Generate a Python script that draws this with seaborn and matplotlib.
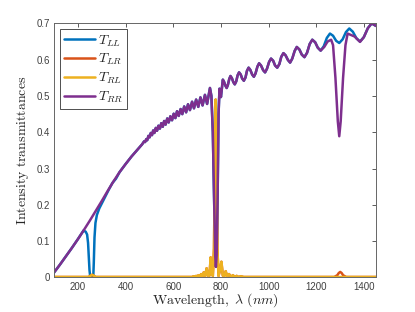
import numpy as np
import matplotlib
matplotlib.use("Agg")
import matplotlib.pyplot as plt
import seaborn as sns

# wavelength (nm) and T_RR (ripple peaks, troughs and shoulders)
wl_rr = [100, 125, 150, 175, 200, 225, 250, 275, 300, 325, 350, 375, 400, 425, 450, 470,
         478, 482, 487, 491, 496, 501, 506, 511, 516, 521, 527, 532, 538, 544, 550, 556,
         562, 568, 575, 581, 588, 595, 602, 609, 616, 623, 631, 638, 646, 654, 662, 670,
         679, 687, 696, 705, 714, 723, 733, 742, 754, 760, 766, 772, 776, 779, 782, 786,
         790, 794, 800, 808, 813, 819, 824, 829, 835, 840, 846, 852, 858, 864, 870, 876,
         883, 889, 896, 903, 909, 916, 923, 931, 938, 945, 953, 960, 968, 977, 985, 993,
         1002, 1010, 1019, 1027, 1036, 1045, 1053, 1062, 1071, 1081, 1090, 1099, 1109,
         1118, 1129, 1139, 1150, 1161, 1172, 1183, 1195, 1206, 1218, 1233, 1247, 1262,
         1270, 1280, 1290, 1296, 1302, 1312, 1322, 1331, 1345, 1360, 1383, 1399, 1416,
         1432, 1450]
t_rr = [0.013, 0.035, 0.058, 0.081, 0.105, 0.130, 0.156, 0.183, 0.210, 0.238, 0.265, 0.290,
        0.312, 0.333, 0.352, 0.367,
        0.375, 0.373, 0.381, 0.378, 0.390, 0.386, 0.398, 0.392, 0.405, 0.398, 0.412, 0.404,
        0.418, 0.410, 0.425, 0.415, 0.431, 0.421, 0.438, 0.427, 0.444, 0.433, 0.451, 0.439,
        0.458, 0.445, 0.464, 0.450, 0.471, 0.455, 0.477, 0.461, 0.484, 0.466, 0.490, 0.470,
        0.496, 0.474, 0.503, 0.478, 0.522, 0.50, 0.40, 0.20, 0.06, 0.029, 0.06, 0.22,
        0.45, 0.52, 0.497, 0.545, 0.539, 0.528, 0.522, 0.530, 0.547, 0.555, 0.549, 0.538,
        0.532, 0.540, 0.557, 0.565, 0.559, 0.548, 0.542, 0.551, 0.569, 0.578, 0.572, 0.559,
        0.553, 0.562, 0.581, 0.590, 0.584, 0.571, 0.565, 0.575, 0.594, 0.603, 0.597, 0.584,
        0.578, 0.588, 0.608, 0.618, 0.612, 0.599, 0.592, 0.603, 0.624, 0.635, 0.628, 0.614,
        0.607, 0.619, 0.643, 0.655, 0.648, 0.633, 0.625, 0.635, 0.650, 0.655,
        0.640, 0.550, 0.430, 0.389, 0.430, 0.550, 0.640, 0.672, 0.668, 0.664, 0.649, 0.662,
        0.687, 0.700, 0.693]

# T_LL differs from T_RR only around 260 nm and 1300 nm
wl_ll_a = [226, 233, 239, 243, 246, 249, 252, 256, 262, 265, 267, 270, 274, 280, 290,
           300, 315, 330, 345, 360]
t_ll_a = [0.128, 0.126, 0.118, 0.095, 0.060, 0.020, 0.002, 0.0, 0.0, 0.004, 0.040, 0.110,
          0.150, 0.172, 0.190, 0.203, 0.222, 0.242, 0.260, 0.272]
wl_ll_b = [1231, 1244, 1257, 1270, 1283, 1296, 1310, 1324, 1338, 1353, 1368, 1383]
t_ll_b = [0.637, 0.660, 0.672, 0.666, 0.652, 0.646, 0.656, 0.676, 0.686, 0.677, 0.659, 0.650]

# cross-polarised transmittances
wl_rl = [100, 245, 252, 260, 268, 275, 600, 680, 685, 690, 696, 700, 706, 712, 717, 722,
         728, 734, 740, 746, 752, 757, 762, 766, 771, 775, 778, 781, 785, 790, 796, 802,
         808, 814, 820, 826, 834, 842, 850, 858, 866, 874, 884, 895, 1450]
t_rl = [0.001, 0.001, 0.004, 0.007, 0.004, 0.001, 0.001, 0.001, 0.003, 0.001, 0.004, 0.001,
        0.006, 0.001, 0.009, 0.002, 0.014, 0.004, 0.025, 0.004, 0.005, 0.055, 0.010, 0.004,
        0.080, 0.350, 0.490, 0.350, 0.080, 0.004, 0.020, 0.043, 0.005, 0.004, 0.017, 0.002,
        0.009, 0.001, 0.006, 0.001, 0.004, 0.001, 0.003, 0.001, 0.001]
wl_lr_b = [1275, 1288, 1294, 1300, 1306, 1312, 1325]
t_lr_b = [0.001, 0.006, 0.012, 0.015, 0.012, 0.006, 0.001]

x_ticks = [200, 400, 600, 800, 1000, 1200, 1400]
y_ticks = [0, 0.1, 0.2, 0.3, 0.4, 0.5, 0.6, 0.7]
y_tick_labels = ["0", "0.1", "0.2", "0.3", "0.4", "0.5", "0.6", "0.7"]

# assemble T_LL and T_LR from the pieces
wl_rr = np.array(wl_rr); t_rr = np.array(t_rr)
keep = ((wl_rr < 226) | (wl_rr > 360)) & ((wl_rr < 1225) | (wl_rr > 1383))
wl_ll = np.concatenate([wl_rr[keep], wl_ll_a, wl_ll_b])
t_ll = np.concatenate([t_rr[keep], t_ll_a, t_ll_b])
order = np.argsort(wl_ll)
wl_ll, t_ll = wl_ll[order], t_ll[order]

wl_rl = np.array(wl_rl); t_rl = np.array(t_rl)
keep = (wl_rl < 1275) | (wl_rl > 1325)
wl_lr = np.concatenate([wl_rl[keep], wl_lr_b])
t_lr = np.concatenate([t_rl[keep], t_lr_b])
order = np.argsort(wl_lr)
wl_lr, t_lr = wl_lr[order], t_lr[order]

sns.set_style("white")
plt.rcParams["font.family"] = ["Liberation Sans", "DejaVu Sans"]
plt.rcParams["mathtext.fontset"] = "cm"

colors = ["#0072BD", "#D95319", "#EDB120", "#7E2F8E"]
fig = plt.figure(figsize=(4.15, 3.12), dpi=100)
ax = fig.add_axes([0.130, 0.111, 0.776, 0.814])

lw = 1.8
sns.lineplot(x=wl_ll, y=t_ll, color=colors[0], lw=lw, label=r"$T_{LL}$", ax=ax, sort=False)
sns.lineplot(x=wl_lr, y=t_lr, color=colors[1], lw=lw, label=r"$T_{LR}$", ax=ax, sort=False)
sns.lineplot(x=wl_rl, y=t_rl, color=colors[2], lw=lw, label=r"$T_{RL}$", ax=ax, sort=False)
sns.lineplot(x=wl_rr, y=t_rr, color=colors[3], lw=lw, label=r"$T_{RR}$", ax=ax, sort=False)

ax.set_xlim(100, 1450)
ax.set_ylim(0, 0.7)
ax.set_xticks(x_ticks)
ax.set_yticks(y_ticks)
ax.set_yticklabels(y_tick_labels)
ax.tick_params(direction="in", top=True, right=True, length=3, width=0.6,
               labelsize=7, colors="#404040", labelcolor="#404040", pad=3)
for s in ax.spines.values():
    s.set_color("#666666")
    s.set_linewidth(0.7)

ax.set_xlabel(r"$\mathrm{Wavelength,}\ \lambda\ (nm)$", fontsize=10, color="#262626", labelpad=0)
ax.set_ylabel(r"$\mathrm{Intensity\ transmittances}$", fontsize=10, color="#262626", labelpad=4)

leg = ax.legend(loc="upper left", fontsize=10, handlelength=2.2, handletextpad=0.2,
                labelspacing=0.25, borderpad=0.3, borderaxespad=0, fancybox=False,
                framealpha=1, bbox_to_anchor=(0.019, 0.978))
leg.get_frame().set_edgecolor("#333333")
leg.get_frame().set_linewidth(0.6)

fig.savefig("out.png", dpi=100)
